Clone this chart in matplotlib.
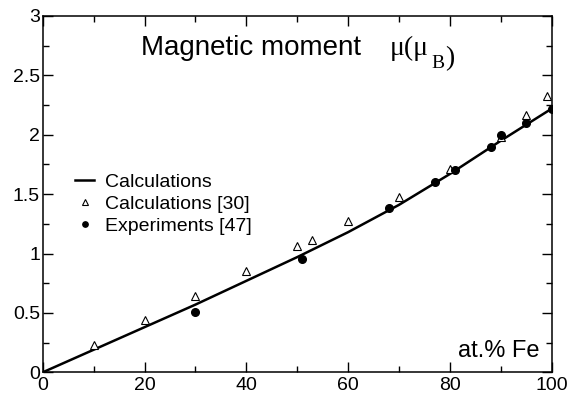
import matplotlib.pyplot as plt
from matplotlib.ticker import MultipleLocator

# model curve (at.% Fe vs moment)
curve_x = [0, 10, 20, 30, 40, 50, 60, 70, 80, 90, 100]
curve_y = [0.0, 0.19, 0.38, 0.57, 0.77, 0.97, 1.18, 1.41, 1.67, 1.95, 2.22]

# calculations [30]
calc_x = [10, 20, 30, 40, 50, 53, 60, 70, 80, 90, 95, 99]
calc_y = [0.23, 0.44, 0.64, 0.85, 1.06, 1.11, 1.27, 1.48, 1.71, 1.98, 2.17, 2.33]

# experiments [47]
exp_x = [30, 51, 68, 77, 81, 88, 90, 95, 100]
exp_y = [0.51, 0.95, 1.38, 1.60, 1.70, 1.90, 2.00, 2.10, 2.22]

y_ticks = [0, 0.5, 1, 1.5, 2, 2.5, 3]
y_ticklabels = ['0', '0.5', '1', '1.5', '2', '2.5', '3']
x_ticks = [0, 20, 40, 60, 80, 100]

plt.rcParams['font.family'] = ['Liberation Sans', 'DejaVu Sans']

fig = plt.figure(figsize=(5.71, 3.96), dpi=100)
ax = fig.add_axes([0.0748, 0.0598, 0.8914, 0.8998])

ax.plot(curve_x, curve_y, color='black', lw=1.8, label='Calculations', zorder=2)
ax.plot(calc_x, calc_y, ls='none', marker='^', ms=6, mfc='white', mec='black',
        mew=0.8, label='Calculations [30]', zorder=3)
ax.plot(exp_x, exp_y, ls='none', marker='o', ms=5.5, color='black',
        label='Experiments [47]', zorder=4)

ax.set_xlim(0, 100)
ax.set_ylim(0, 3)
ax.set_xticks(x_ticks)
ax.set_yticks(y_ticks, y_ticklabels)
ax.xaxis.set_minor_locator(MultipleLocator(10))
ax.yaxis.set_minor_locator(MultipleLocator(0.25))
ax.tick_params(which='both', direction='in', top=True, right=True, width=1.0,
               labelsize=14)
ax.tick_params(axis='x', which='both', pad=3.5)
ax.tick_params(axis='y', which='both', pad=2)
ax.tick_params(which='major', length=7)
ax.tick_params(which='minor', length=4)
for s in ax.spines.values():
    s.set_linewidth(1.1)

ax.text(19.4, 2.67, 'Magnetic moment', fontsize=20, va='baseline', ha='left')
mu = ax.text(68.2, 2.67, 'μ(μ', fontsize=20, va='baseline', ha='left',
             family='Liberation Serif')
sub = ax.annotate('B', xy=(1, 0), xycoords=mu, xytext=(1.5, -5),
                  textcoords='offset points', fontsize=14, va='baseline',
                  ha='left', family='Liberation Serif')
ax.annotate(')', xy=(1, 0), xycoords=sub, xytext=(1, 5),
            textcoords='offset points', fontsize=20, va='baseline', ha='left',
            family='Liberation Serif')
ax.text(97.6, 0.131, 'at.% Fe', fontsize=17, va='baseline', ha='right')

ax.legend(loc='upper left', bbox_to_anchor=(0.0635, 0.558), frameon=False,
          fontsize=14, handlelength=1.0, handletextpad=0.55, labelspacing=0.22,
          borderpad=0, borderaxespad=0, markerscale=0.7)

fig.savefig('out.png', dpi=100)
